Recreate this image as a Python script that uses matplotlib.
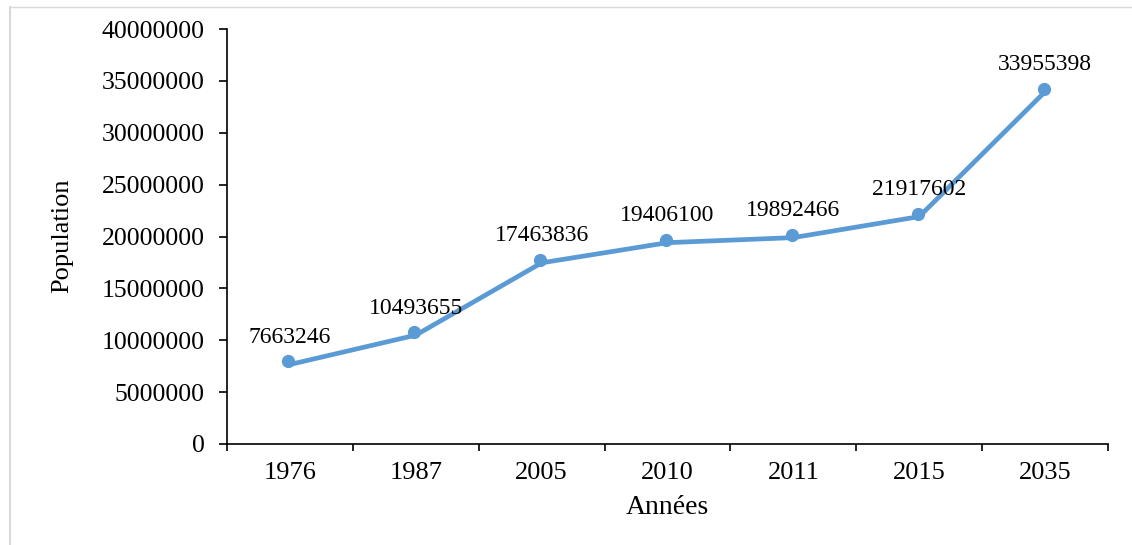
import matplotlib
matplotlib.use("Agg")
import matplotlib.pyplot as plt
import matplotlib.transforms as mtransforms
from matplotlib.lines import Line2D

years = ["1976", "1987", "2005", "2010", "2011", "2015", "2035"]
population = [7663246, 10493655, 17463836, 19406100, 19892466, 21917602, 33955398]
yticks = [0, 5000000, 10000000, 15000000, 20000000, 25000000, 30000000, 35000000, 40000000]

plt.rcParams['font.family'] = ['Liberation Serif', 'DejaVu Serif']

W, H = 1132, 545
fig = plt.figure(figsize=(W / 100, H / 100), dpi=100)
ax = fig.add_axes([227 / W, 1 - 444 / H, (1108 - 227) / W, (444 - 29) / H])

color = '#5B9BD5'
x = list(range(len(years)))
ax.plot(x, population, color=color, lw=3.4, solid_capstyle='round', solid_joinstyle='round', zorder=3)
off = mtransforms.ScaledTranslation(-1.5 / 100, 3 / 100, fig.dpi_scale_trans)
ax.plot(x, population, ls='none', marker='o', ms=8.5, color=color,
        transform=ax.transData + off, zorder=4)

for xi, v in zip(x, population):
    ax.annotate(f"{v}", (xi, v), xytext=(0, 19.5), textcoords='offset points',
                ha='center', va='center', fontsize=17, color='black')

ax.set_xlim(-0.5, len(years) - 0.5)
ax.set_ylim(0, 40000000)
ax.set_yticks(yticks)
ax.set_yticklabels([str(t) for t in yticks])
ax.set_xticks(x)
ax.set_xticklabels(years)
ax.set_xticks([i - 0.5 for i in range(len(years) + 1)], minor=True)
ax.tick_params(axis='x', which='major', length=0, pad=13, labelsize=19)
ax.tick_params(axis='x', which='minor', length=5, width=1.2, direction='out')
ax.tick_params(axis='y', length=6, width=1.2, direction='out', labelsize=18.5, pad=10)

for s in ['top', 'right']:
    ax.spines[s].set_visible(False)
for s in ['left', 'bottom']:
    ax.spines[s].set_linewidth(1.2)
    ax.spines[s].set_color('black')

ax.set_ylabel("Population", fontsize=19, va='center')
ax.yaxis.set_label_coords((62 - 227) / (1108 - 227), (444 - 236) / (444 - 29))
ax.set_xlabel("Années", fontsize=20, va='center')
ax.xaxis.set_label_coords(0.5, -(508 - 444) / (444 - 29))

# figure frame (light gray)
fig.add_artist(Line2D([9.5 / W, 9.5 / W], [0, 1 - 7 / H], transform=fig.transFigure, color='#d9d9d9', lw=1.5))
fig.add_artist(Line2D([9.5 / W, 1], [1 - 7 / H, 1 - 7 / H], transform=fig.transFigure, color='#d9d9d9', lw=1.0))

fig.savefig("out.png", dpi=100)
